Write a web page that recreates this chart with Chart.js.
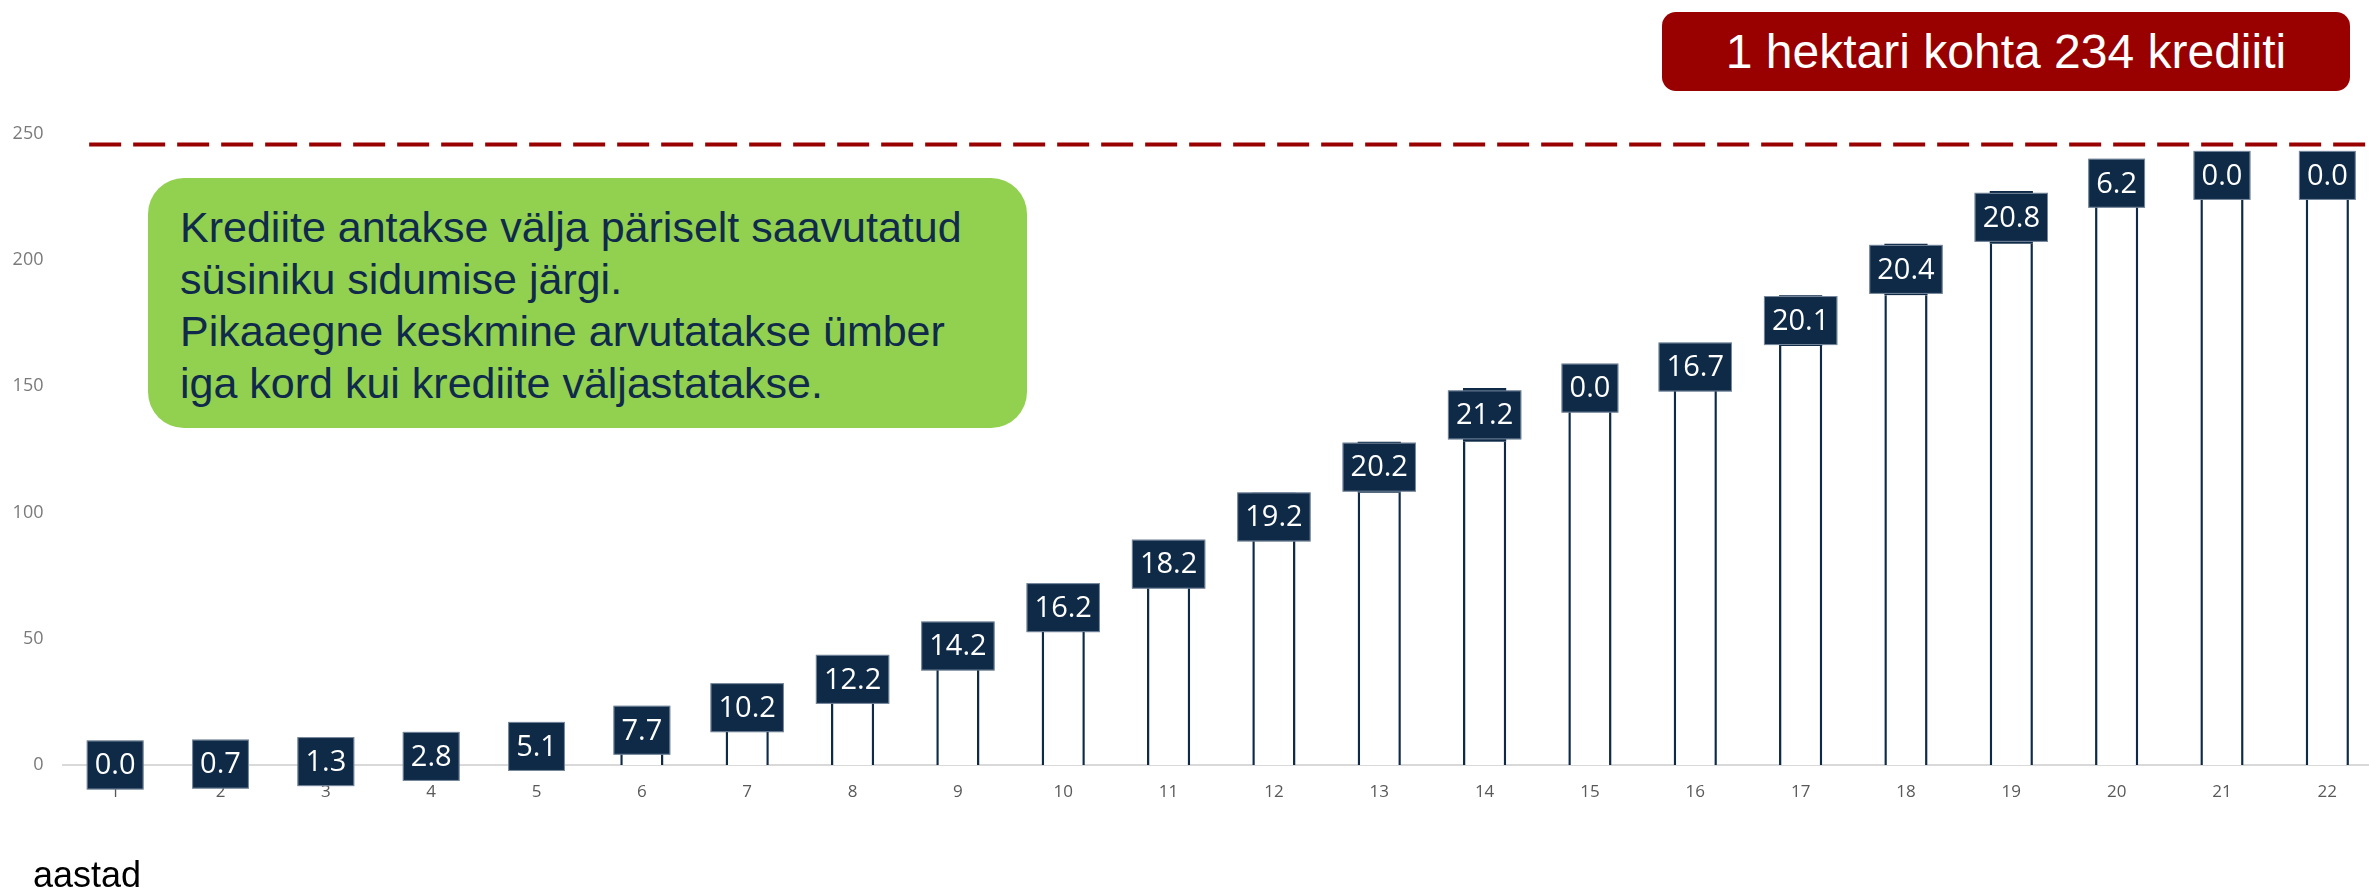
<!DOCTYPE html>
<html>
<head>
<meta charset="utf-8">
<title>Krediidid</title>
<script src="https://cdn.jsdelivr.net/npm/chart.js@4.4.1/dist/chart.umd.min.js"></script>
<style>
  html, body { margin: 0; padding: 0; background: #fff; overflow: hidden; }
  #wrap { position: relative; width: 2380px; height: 891px; }
  #chart { position: absolute; left: 0; top: 0; }
  .note {
    position: absolute; left: 148px; top: 178px; width: 879px; height: 250px;
    box-sizing: border-box; padding: 23px 0 0 32px;
    background: #92d050; border-radius: 36px;
    font: 43px/52px "Liberation Sans", Arial, sans-serif; color: #0f2a4a;
  }
  .total {
    position: absolute; left: 1662px; top: 12px; width: 688px; height: 79px;
    background: #990000; border-radius: 14px; color: #fff; text-align: center;
    font: 48px/79px "Liberation Sans", Arial, sans-serif;
  }
  .xtitle {
    position: absolute; left: 33px; top: 857px;
    font: 36px/36px "Liberation Sans", Arial, sans-serif; color: #000;
  }
</style>
</head>
<body>
<div id="wrap">
  <canvas id="chart" width="2380" height="891"></canvas>
  <div class="note">Krediite antakse välja päriselt saavutatud<br>süsiniku sidumise järgi.<br>Pikaaegne keskmine arvutatakse ümber<br>iga kord kui krediite väljastatakse.</div>
  <div class="total">1 hektari kohta 234 krediiti</div>
  <div class="xtitle">aastad</div>
</div>
<script>
// years
const years = ['1','2','3','4','5','6','7','8','9','10','11','12','13','14','15','16','17','18','19','20','21','22'];
// credits issued each year (label values)
const credits = [0.0, 0.7, 1.3, 2.8, 5.1, 7.7, 10.2, 12.2, 14.2, 16.2, 18.2, 19.2, 20.2, 21.2, 0.0, 16.7, 20.1, 20.4, 20.8, 6.2, 0.0, 0.0];
// accumulated before that year (bottom of the dark step)
const before = [0.0, 0.0, 0.7, 2.0, 4.8, 9.9, 17.6, 27.8, 40.0, 54.2, 70.4, 88.6, 107.8, 128.0, 149.2, 149.2, 165.9, 186.0, 206.4, 227.2, 233.4, 233.4];
// y ticks
const yTicks = [0, 50, 100, 150, 200, 250];
// long term limit line
const limitValue = 245.6;

const navy = '#0e2a47';

// red dashed limit line
const limitLine = {
  id: 'limitLine',
  afterDatasetsDraw(chart) {
    const ctx = chart.ctx;
    const y = chart.scales.y.getPixelForValue(limitValue);
    const x0 = chart.scales.x.getPixelForValue(0) - 26;
    ctx.save();
    ctx.strokeStyle = '#990000';
    ctx.lineWidth = 4;
    ctx.setLineDash([32, 12]);
    ctx.beginPath();
    ctx.moveTo(x0, y);
    ctx.lineTo(chart.width, y);
    ctx.stroke();
    ctx.restore();
  }
};

// dark label boxes centred on each step
const stepLabels = {
  id: 'stepLabels',
  afterDatasetsDraw(chart) {
    const ctx = chart.ctx;
    const meta = chart.getDatasetMeta(1);
    ctx.save();
    ctx.font = '29px "Open Sans", sans-serif';
    ctx.textAlign = 'center';
    ctx.textBaseline = 'middle';
    meta.data.forEach((bar, i) => {
      const txt = credits[i].toFixed(1);
      const w = ctx.measureText(txt).width + 16;
      const h = 49;
      const cy = (bar.y + bar.base) / 2;
      ctx.fillStyle = navy;
      ctx.fillRect(bar.x - w / 2, cy - h / 2, w, h);
      ctx.strokeStyle = 'rgba(190,200,215,0.6)';
      ctx.lineWidth = 1;
      ctx.strokeRect(bar.x - w / 2 + 0.5, cy - h / 2 + 0.5, w - 1, h - 1);
      ctx.fillStyle = '#fff';
      ctx.fillText(txt, bar.x, cy + 1);
    });
    ctx.restore();
  }
};

new Chart(document.getElementById('chart'), {
  type: 'bar',
  data: {
    labels: years,
    datasets: [{
      label: 'kogunenud',
      data: before,
      backgroundColor: '#ffffff',
      borderColor: navy,
      borderWidth: { left: 2.5, right: 2.5, top: 0, bottom: 0 },
      borderSkipped: false
    }, {
      label: 'krediidid',
      data: credits,
      backgroundColor: navy,
      borderColor: navy,
      borderWidth: 0
    }]
  },
  options: {
    responsive: false,
    animation: false,
    devicePixelRatio: 1,
    layout: { padding: { top: 133.5, left: 0, right: 0, bottom: 0 } },
    plugins: { legend: { display: false }, tooltip: { enabled: false } },
    datasets: { bar: { categoryPercentage: 1, barPercentage: 0.41 } },
    scales: {
      x: {
        stacked: true,
        grid: { display: false, drawTicks: false },
        border: { display: true, color: '#d9d9d9', width: 2 },
        ticks: { color: '#595959', font: { family: 'Open Sans', size: 17 }, padding: 17, maxRotation: 0 },
        afterFit(scale) { scale.height = 126; }
      },
      y: {
        stacked: true,
        min: 0,
        max: 250,
        grid: { display: false, drawTicks: false },
        border: { display: false },
        afterBuildTicks(scale) { scale.ticks = yTicks.map(v => ({ value: v })); },
        ticks: { color: '#7a7a7a', font: { family: 'Open Sans', size: 18 }, padding: 19 },
        afterFit(scale) { scale.width = 62.5; }
      }
    }
  },
  plugins: [limitLine, stepLabels]
});
</script>
</body>
</html>
